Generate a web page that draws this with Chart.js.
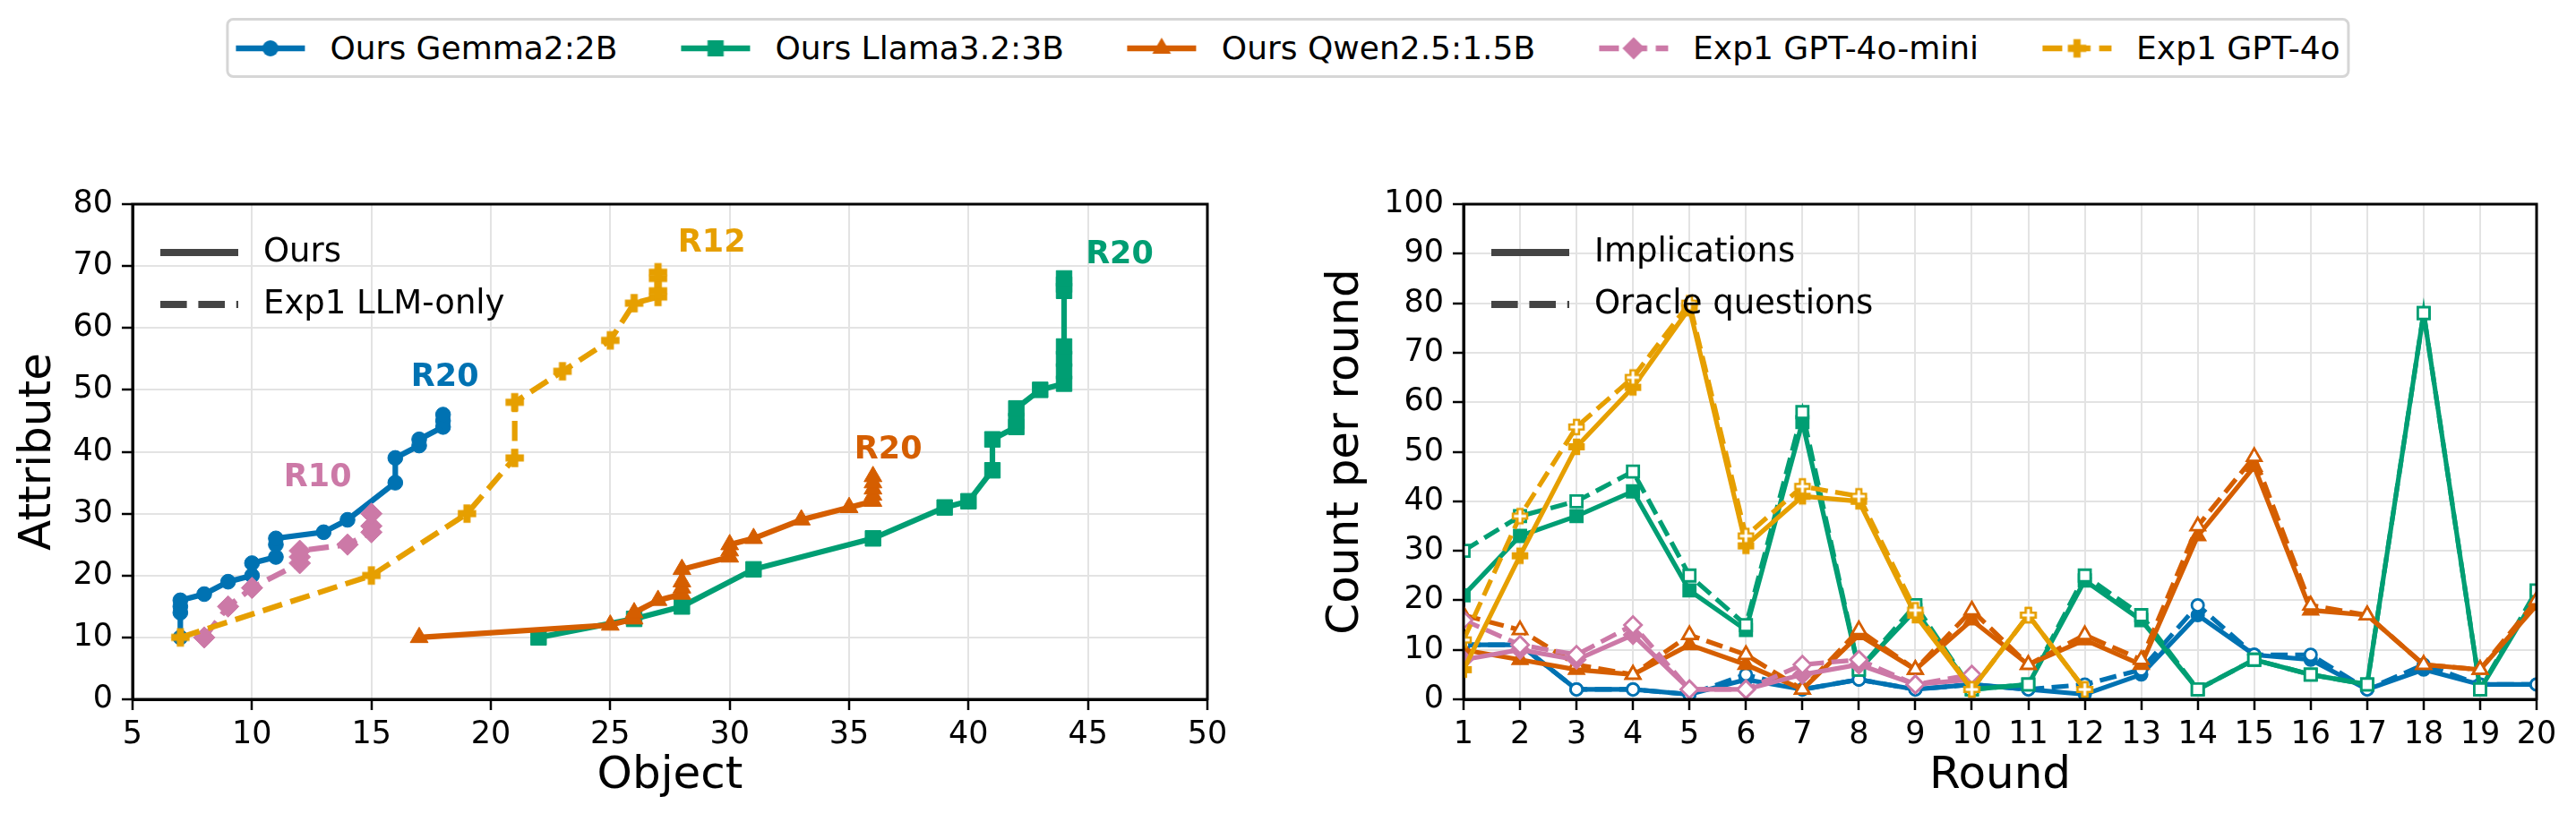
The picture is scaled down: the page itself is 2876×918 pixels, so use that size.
<!DOCTYPE html>
<html><head><meta charset="utf-8">
<script src="https://cdn.jsdelivr.net/npm/chart.js@4.4.1/dist/chart.umd.min.js"></script>
<style>
html,body{margin:0;padding:0;background:#fff;}
#wrap{position:relative;width:2876px;height:918px;overflow:hidden;background:#fff;}
#left{position:absolute;left:0;top:0;}
#right{position:absolute;left:1460px;top:0;}
#legend{position:absolute;top:20px;left:50%;transform:translateX(-50%);display:flex;align-items:center;height:67px;box-sizing:border-box;border:3px solid #d6d6d6;border-radius:8px;background:#fff;padding:0 8px;font-family:'DejaVu Sans';font-size:36px;color:#000;white-space:nowrap;}
.item{display:flex;align-items:center;}
.item + .item{margin-left:71px;}
.item canvas{margin-right:28px;display:block;}
</style></head>
<body><div id="wrap"><canvas id="left" width="1440" height="918"></canvas><canvas id="right" width="1416" height="918"></canvas><div id="legend"></div></div>
<script>
// ---------- data ----------
const objectTicks = [5, 10, 15, 20, 25, 30, 35, 40, 45, 50];
const attributeTicks = [0, 10, 20, 30, 40, 50, 60, 70, 80];
const rounds = [1, 2, 3, 4, 5, 6, 7, 8, 9, 10, 11, 12, 13, 14, 15, 16, 17, 18, 19, 20];
const countTicks = [0, 10, 20, 30, 40, 50, 60, 70, 80, 90, 100];

// cumulative (object, attribute) per round
const gemmaObject    = [7, 7, 7, 7, 8, 9, 10, 10, 11, 11, 11, 13, 14, 16, 16, 17, 17, 18, 18, 18];
const gemmaAttribute = [10, 14, 15, 16, 17, 19, 20, 22, 23, 25, 26, 27, 29, 35, 39, 41, 42, 44, 45, 46];
const llamaObject    = [22, 26, 28, 31, 36, 39, 40, 41, 41, 42, 42, 42, 43, 44, 44, 44, 44, 44, 44, 44];
const llamaAttribute = [10, 13, 15, 21, 26, 31, 32, 37, 42, 44, 45, 47, 50, 51, 53, 55, 57, 66, 67, 68];
const qwenObject     = [17, 25, 26, 26, 27, 28, 28, 28, 28, 30, 30, 30, 31, 33, 35, 36, 36, 36, 36, 36];
const qwenAttribute  = [10, 12, 13, 14, 16, 17, 18, 19, 21, 23, 24, 25, 26, 29, 31, 32, 33, 34, 35, 36];
const miniObject     = [8, 9, 10, 12, 12, 12, 14, 15, 15, 15];
const miniAttribute  = [10, 15, 18, 22, 23, 24, 25, 27, 28, 30];
const gpt4oObject    = [7, 15, 19, 21, 21, 23, 25, 26, 27, 27, 27, 27];
const gpt4oAttribute = [10, 20, 30, 39, 48, 53, 58, 64, 65, 66, 68, 69];

// per round counts: implications (solid) and oracle questions (dashed)
const gemmaImplications = [11, 11, 2, 2, 1, 4, 2, 4, 2, 3, 2, 1, 5, 17, 9, 8, 2, 6, 3, 3];
const gemmaOracle       = [11, 11, 2, 2, 1, 5, 2, 4, 2, 3, 2, 3, 6, 19, 9, 9, 2, 7, 3, 3];
const llamaImplications = [21, 33, 37, 42, 22, 14, 56, 6, 18, 2, 3, 24, 16, 2, 8, 5, 3, 78, 2, 21];
const llamaOracle       = [30, 37, 40, 46, 25, 15, 58, 6, 19, 2, 3, 25, 17, 2, 8, 5, 3, 78, 2, 22];
const qwenImplications  = [10, 8, 6, 5, 11, 7, 2, 13, 6, 16, 7, 12, 7, 33, 47, 18, 17, 7, 6, 19];
const qwenOracle        = [17, 14, 7, 5, 13, 9, 2, 14, 6, 18, 7, 13, 8, 35, 49, 19, 17, 7, 6, 20];
const miniImplications  = [8, 10, 8, 13, 2, 2, 5, 7, 3, 4];
const miniOracle        = [16, 11, 9, 15, 2, 2, 7, 8, 3, 5];
const gpt4oImplications = [6, 29, 51, 63, 79, 31, 41, 40, 17, 2, 17, 2];
const gpt4oOracle       = [12, 37, 55, 65, 80, 33, 43, 41, 18, 2, 17, 2];

const seriesNames = ['Ours Gemma2:2B', 'Ours Llama3.2:3B', 'Ours Qwen2.5:1.5B', 'Exp1 GPT-4o-mini', 'Exp1 GPT-4o'];

// ---------- styles ----------
const FONT = "'DejaVu Sans', sans-serif";
Chart.defaults.font.family = FONT;
Chart.defaults.color = '#000';

const styleOf = [
  {color: '#0072B2', marker: 'circle',   dashed: false, rL: 8.3,  rR: 6.6, label: [2, -41]},
  {color: '#009E73', marker: 'rect',     dashed: false, rL: 12.3, rR: 9.2, label: [62, -26]},
  {color: '#D55E00', marker: 'triangle', dashed: false, rL: 11.5, rR: 9.2, label: [17, -29]},
  {color: '#CC79A7', marker: 'rectRot',  dashed: true,  rL: 12,   rR: 9.6, label: [-60, -40]},
  {color: '#E69F00', marker: 'plus',     dashed: true,  rL: 10,   rR: 9,   label: [60, -32]}
];
const leftData = [[gemmaObject, gemmaAttribute], [llamaObject, llamaAttribute], [qwenObject, qwenAttribute], [miniObject, miniAttribute], [gpt4oObject, gpt4oAttribute]];
const rightData = [[gemmaImplications, gemmaOracle], [llamaImplications, llamaOracle], [qwenImplications, qwenOracle], [miniImplications, miniOracle], [gpt4oImplications, gpt4oOracle]];

function makePlus(size, arm, fill, stroke, lw) {
  const pad = Math.ceil(lw || 0) + 1;
  const c = document.createElement('canvas');
  c.width = c.height = Math.round(size + 2 * pad);
  const g = c.getContext('2d');
  const o = (c.width - size) / 2, s = size, m = (s - arm) / 2, a = arm;
  g.beginPath();
  g.moveTo(o + m, o); g.lineTo(o + m + a, o); g.lineTo(o + m + a, o + m); g.lineTo(o + s, o + m);
  g.lineTo(o + s, o + m + a); g.lineTo(o + m + a, o + m + a); g.lineTo(o + m + a, o + s); g.lineTo(o + m, o + s);
  g.lineTo(o + m, o + m + a); g.lineTo(o, o + m + a); g.lineTo(o, o + m); g.lineTo(o + m, o + m);
  g.closePath();
  g.fillStyle = fill; g.fill();
  if (lw) { g.strokeStyle = stroke; g.lineWidth = lw; g.lineJoin = 'miter'; g.stroke(); }
  return c;
}
const plusColor = styleOf[4].color;
const plusLeft = makePlus(19, 6.5, plusColor, plusColor, 1.5);
const plusRightFilled = makePlus(16, 5.6, plusColor, plusColor, 2.5);
const plusRightHollow = makePlus(16, 5.6, '#fff', plusColor, 2.5);

// ---------- legend (figure level) ----------
function drawMarker(g, kind, x, y, color) {
  g.fillStyle = color;
  g.beginPath();
  if (kind === 'circle') { g.arc(x, y, 9, 0, Math.PI * 2); g.fill(); }
  else if (kind === 'rect') { g.fillRect(x - 9, y - 9, 18, 18); }
  else if (kind === 'triangle') { const r = 12; g.moveTo(x, y - r); g.lineTo(x + r * 0.866, y + r / 2); g.lineTo(x - r * 0.866, y + r / 2); g.closePath(); g.fill(); }
  else if (kind === 'rectRot') { const r = 12.5; g.moveTo(x, y - r); g.lineTo(x + r, y); g.lineTo(x, y + r); g.lineTo(x - r, y); g.closePath(); g.fill(); }
  else if (kind === 'plus') { g.drawImage(plusLeft, x - plusLeft.width / 2, y - plusLeft.height / 2); }
}
const legendEl = document.getElementById('legend');
seriesNames.forEach((name, i) => {
  const st = styleOf[i];
  const item = document.createElement('div'); item.className = 'item';
  const c = document.createElement('canvas'); c.width = 77; c.height = 40;
  const g = c.getContext('2d');
  g.strokeStyle = st.color; g.lineWidth = 6.5; g.setLineDash(st.dashed ? [22, 9.6] : []);
  g.beginPath(); g.moveTo(0, 20); g.lineTo(77, 20); g.stroke(); g.setLineDash([]);
  drawMarker(g, st.marker, 38.5, 20, st.color);
  const t = document.createElement('span'); t.textContent = name;
  item.appendChild(c); item.appendChild(t); legendEl.appendChild(item);
});

// ---------- plugins ----------
const framePlugin = {
  id: 'frame',
  afterDatasetsDraw(chart) {
    const {ctx, chartArea: a} = chart;
    ctx.save(); ctx.strokeStyle = '#000'; ctx.lineWidth = 3;
    ctx.strokeRect(a.left, a.top, a.right - a.left, a.bottom - a.top);
    ctx.restore();
  }
};
const styleLegendPlugin = {
  id: 'styleLegend',
  afterDatasetsDraw(chart, args, opts) {
    if (!opts.items) return;
    const {ctx, chartArea: a} = chart;
    ctx.save();
    ctx.font = '37px ' + FONT; ctx.textBaseline = 'middle'; ctx.textAlign = 'left';
    opts.items.forEach((it, i) => {
      const y = a.top + 54 + i * 58;
      ctx.strokeStyle = '#444'; ctx.lineWidth = 8; ctx.lineCap = 'butt';
      ctx.setLineDash(it.dashed ? [29.6, 12.8] : []);
      ctx.beginPath(); ctx.moveTo(a.left + 31, y); ctx.lineTo(a.left + 118, y); ctx.stroke();
      ctx.setLineDash([]);
      ctx.fillStyle = '#000'; ctx.fillText(it.text, a.left + 146, y);
    });
    ctx.restore();
  }
};
const endLabelPlugin = {
  id: 'endLabels',
  afterDatasetsDraw(chart, args, opts) {
    if (!opts.enabled) return;
    const {ctx} = chart;
    ctx.save();
    ctx.font = 'bold 35px ' + FONT; ctx.textAlign = 'center'; ctx.textBaseline = 'middle';
    chart.data.datasets.forEach((ds, i) => {
      const meta = chart.getDatasetMeta(i);
      const last = meta.data[meta.data.length - 1];
      const off = styleOf[i].label;
      ctx.fillStyle = styleOf[i].color;
      ctx.fillText('R' + ds.data.length, last.x + off[0], last.y + off[1]);
    });
    ctx.restore();
  }
};

function axisCommon(ticksArr, sizeKey, sizeVal, tickPad) {
  return {
    type: 'linear',
    min: ticksArr[0], max: ticksArr[ticksArr.length - 1],
    afterBuildTicks: s => { s.ticks = ticksArr.map(v => ({value: v})); },
    afterFit: s => { s[sizeKey] = sizeVal; s.paddingLeft = 0; s.paddingRight = 0; s.paddingTop = 0; s.paddingBottom = 0; },
    grid: {color: '#e3e3e3', lineWidth: 2, tickColor: '#000', tickWidth: 2.5, tickLength: 12, drawTicks: true},
    border: {display: true, color: '#000', width: 3},
    ticks: {font: {size: 35}, color: '#000', padding: tickPad, autoSkip: false, maxRotation: 0, minRotation: 0, callback: v => String(v)}
  };
}

// ---------- left chart ----------
const leftSets = leftData.map(([xs, ys], i) => {
  const st = styleOf[i];
  return {
    label: seriesNames[i],
    data: xs.map((x, k) => ({x: x, y: ys[k]})),
    showLine: true,
    borderColor: st.color, backgroundColor: st.color,
    borderWidth: 6.2, borderDash: st.dashed ? [22.5, 9.8] : [],
    pointStyle: st.marker === 'plus' ? plusLeft : st.marker,
    pointRadius: st.rL, pointHoverRadius: st.rL,
    pointBackgroundColor: st.color, pointBorderColor: st.color, pointBorderWidth: 1,
    order: 10 - i
  };
});
const xL = axisCommon(objectTicks, 'height', 137, 7);
xL.title = {display: true, text: 'Object', font: {size: 50}, color: '#000', padding: {top: 0, bottom: 21}};
const yL = axisCommon(attributeTicks, 'width', 148, 10);
yL.title = {display: true, text: 'Attribute', font: {size: 50}, color: '#000', padding: {top: 13, bottom: 0}};

new Chart(document.getElementById('left'), {
  type: 'scatter',
  data: {datasets: leftSets},
  options: {
    responsive: false, animation: false, devicePixelRatio: 1,
    layout: {padding: {top: 228, right: 92, bottom: 0, left: 0}, autoPadding: false},
    scales: {x: xL, y: yL},
    plugins: {
      legend: {display: false}, tooltip: {enabled: false},
      styleLegend: {items: [{text: 'Ours', dashed: false}, {text: 'Exp1 LLM-only', dashed: true}]},
      endLabels: {enabled: true}
    }
  },
  plugins: [framePlugin, styleLegendPlugin, endLabelPlugin]
});

// ---------- right chart ----------
const rightSets = [];
rightData.forEach(([impl, orc], i) => {
  const st = styleOf[i];
  [impl, orc].forEach((vals, j) => {
    const hollow = j === 1;
    rightSets.push({
      label: seriesNames[i] + (hollow ? ' oracle' : ' implications'),
      data: vals.map((v, k) => ({x: rounds[k], y: v})),
      borderColor: st.color, backgroundColor: st.color,
      borderWidth: 5.2, borderDash: hollow ? [19, 8.3] : [],
      pointStyle: st.marker === 'plus' ? (hollow ? plusRightHollow : plusRightFilled) : st.marker,
      pointRadius: st.rR, pointHoverRadius: st.rR,
      pointBackgroundColor: hollow ? '#fff' : st.color, pointBorderColor: st.color, pointBorderWidth: 2.8,
      clip: 0,
      order: 30 - (i * 2 + j)
    });
  });
});
const xR = axisCommon(rounds, 'height', 137, 7);
xR.title = {display: true, text: 'Round', font: {size: 50}, color: '#000', padding: {top: 0, bottom: 21}};
const yR = axisCommon(countTicks, 'width', 174, 10);
yR.title = {display: true, text: 'Count per round', font: {size: 50}, color: '#000', padding: {top: 13, bottom: 0}};

new Chart(document.getElementById('right'), {
  type: 'line',
  data: {datasets: rightSets},
  options: {
    responsive: false, animation: false, devicePixelRatio: 1,
    layout: {padding: {top: 228, right: 44, bottom: 0, left: 0}, autoPadding: false},
    scales: {x: xR, y: yR},
    plugins: {
      legend: {display: false}, tooltip: {enabled: false},
      styleLegend: {items: [{text: 'Implications', dashed: false}, {text: 'Oracle questions', dashed: true}]},
      endLabels: {enabled: false}
    }
  },
  plugins: [framePlugin, styleLegendPlugin, endLabelPlugin]
});
</script></body></html>
